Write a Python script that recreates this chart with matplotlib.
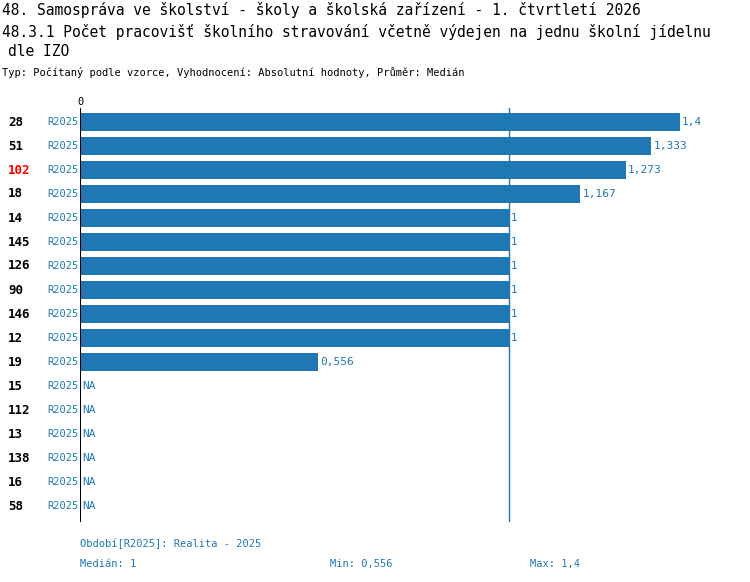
import matplotlib
matplotlib.use("Agg")
import matplotlib.pyplot as plt

plt.rcParams['font.family'] = ['DejaVu Sans Mono']

ids = ["28", "51", "102", "18", "14", "145", "126", "90", "146", "12", "19",
       "15", "112", "13", "138", "16", "58"]
values = [1.4, 1.333, 1.273, 1.167, 1, 1, 1, 1, 1, 1, 0.556,
          None, None, None, None, None, None]
labels = ["1,4", "1,333", "1,273", "1,167", "1", "1", "1", "1", "1", "1", "0,556",
          "NA", "NA", "NA", "NA", "NA", "NA"]
highlight = "102"
median = 1.0

W, H = 750, 582
BLUE = "#1f77b4"
fig = plt.figure(figsize=(W / 100, H / 100), dpi=100)

x0, x1 = 80, 730
ytop, ybot = 108, 522
ax = fig.add_axes([x0 / W, 1 - ybot / H, (x1 - x0) / W, (ybot - ytop) / H])
ppu = 600 / 1.4
ax.set_xlim(0, (x1 - x0) / ppu)
ax.set_ylim(16 + 16 / 24, -14 / 24)
ax.axis("off")
ax.axvline(0, color="black", lw=1.5)
ax.axvline(median, color=BLUE, lw=1)

for i, (v, lab) in enumerate(zip(values, labels)):
    if v is not None:
        ax.barh(i, v, height=0.75, color=BLUE)
        xt = v
    else:
        xt = 0
    ax.text(xt + 0.005, i, lab, color=BLUE, fontsize=8, va="center", ha="left")

def t(x, y, s, **kw):
    fig.text(x / W, 1 - y / H, s, **kw)

for i, name in enumerate(ids):
    y = 122 + 24 * i
    t(8, y, name, fontsize=9, fontweight="bold", va="center",
      color="red" if name == highlight else "black")
    t(47, y, "R2025", fontsize=7.5, va="center", color=BLUE)

t(80, 102, "0", fontsize=7.5, ha="center", va="center")
t(2, 10, "48. Samospráva ve školství - školy a školská zařízení - 1. čtvrtletí 2026",
  fontsize=10.5, va="center")
t(2, 32, "48.3.1 Počet pracovišť školního stravování včetně výdejen na jednu školní jídelnu",
  fontsize=10.5, va="center")
t(8, 52, "dle IZO", fontsize=10.5, va="center")
t(2, 73, "Typ: Počítaný podle vzorce, Vyhodnocení: Absolutní hodnoty, Průměr: Medián",
  fontsize=7.5, va="center")
t(80, 544, "Období[R2025]: Realita - 2025", fontsize=7.5, va="center", color=BLUE)
t(80, 564, "Medián: 1", fontsize=7.5, va="center", color=BLUE)
t(330, 564, "Min: 0,556", fontsize=7.5, va="center", color=BLUE)
t(530, 564, "Max: 1,4", fontsize=7.5, va="center", color=BLUE)

fig.savefig("out.png", dpi=100)
